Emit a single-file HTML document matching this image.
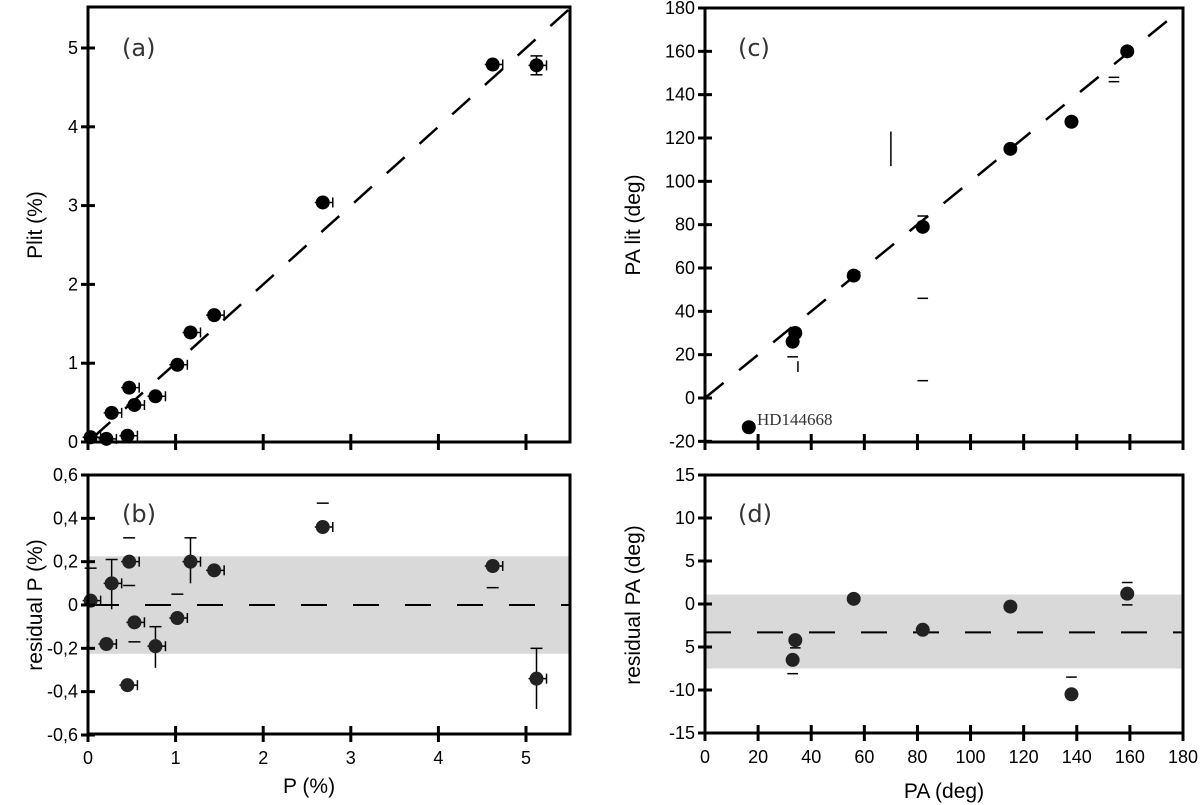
<!DOCTYPE html>
<html><head><meta charset="utf-8">
<style>
body{margin:0;background:#fff;}
svg{display:block;font-family:"Liberation Sans",sans-serif;}
</style></head>
<body>
<svg id="chart" width="1200" height="805" viewBox="0 0 1200 805" xmlns="http://www.w3.org/2000/svg"></svg>
<script>
// Panel (a)/(b) data
const pObs = [0.03,0.21,0.27,0.45,0.47,0.53,0.77,1.02,1.17,1.44,2.68,4.62,5.12];
const pLit = [0.06,0.04,0.37,0.08,0.69,0.47,0.58,0.98,1.39,1.61,3.04,4.79,4.78];
const pResid = [0.02,-0.18,0.10,-0.37,0.20,-0.08,-0.19,-0.06,0.20,0.16,0.36,0.18,-0.34];
const pTicksX = [0,1,2,3,4,5];
const pTicksY = [0,1,2,3,4,5];
const rTicks = [0.6,0.4,0.2,0,-0.2,-0.4,-0.6];
const rTickLabels = ["0,6","0,4","0,2","0","-0,2","-0,4","-0,6"];
// residual error bars (x, low, high)
const rErrX = [0.27,1.17,0.77,5.12];
const rErrLo = [-0.02,0.10,-0.29,-0.48];
const rErrHi = [0.21,0.31,-0.10,-0.20];
// stray caps in (b)
const rCapX = [0.03,0.47,0.47,1.02,0.53,2.68,4.62];
const rCapY = [0.17,0.31,0.09,0.05,-0.17,0.47,0.08];
// Panel (c)/(d) data
const paObs = [16.5,33,34,56,82,115,138,159];
const paLit = [-13.5,26,30,56.5,79,115,127.5,160];
const paResidX = [33,34,56,82,115,138,159];
const paResid = [-6.5,-4.2,0.6,-3,-0.3,-10.5,1.2];
const paTicksX = [0,20,40,60,80,100,120,140,160,180];
const paTicksY = [-20,0,20,40,60,80,100,120,140,160,180];
const prTicks = [15,10,5,0,-5,-10,-15];
const prTickLabels = ["15","10","5","0","5","-10","-15"];

const svg = document.getElementById('chart');
const NS = 'http://www.w3.org/2000/svg';
function mk(tag, attrs, parent){const e=document.createElementNS(NS,tag);for(const k in attrs)e.setAttribute(k,attrs[k]);(parent||svg).appendChild(e);return e;}

const ax = v => 88 + v*87.6;
const ay = v => 442 - v*78.8;
const by = v => 605 - v*(130/0.6);
const cx = v => 705 + v*(478/180);
const cy = v => 398 - v*(390/180);
const dy = v => 604 - v*(129/15);

function frame(x1,y1,x2,y2,name){
  const r=mk('rect',{x:x1,y:y1,width:x2-x1,height:y2-y1,fill:'none',stroke:'#000','stroke-width':3});
  
  
}
function yTick(x,y,label,name){
  const l=mk('line',{x1:x-7,y1:y,x2:x+7,y2:y,stroke:'#000','stroke-width':3});
  
  
  const t=mk('text',{x:x-10,y:y+6,'text-anchor':'end','font-size':18,fill:'#000'});
  t.textContent=label;
  
  
}
function xTick(x,y,label,name){
  const l=mk('line',{x1:x,y1:y-8,x2:x,y2:y+8,stroke:'#000','stroke-width':3});
  
  
  if(label!==null){
    const t=mk('text',{x:x,y:y+30,'text-anchor':'middle','font-size':18,fill:'#000'});
    t.textContent=label;
    
    
  }
}
function text(x,y,s,size,name,extra){
  const t=mk('text',Object.assign({x:x,y:y,'font-size':size,fill:'#000'},extra||{}));
  t.textContent=s;
  
  
  return t;
}
function dot(x,y,name,col){
  const c=mk('circle',{cx:x,cy:y,r:7,fill:col||'#000'});
  
  
}
function seg(x1,y1,x2,y2,name,w){
  const l=mk('line',{x1:x1,y1:y1,x2:x2,y2:y2,stroke:'#000','stroke-width':w||1.5});
  
  
}

mk('rect',{x:0,y:0,width:1200,height:805,fill:'#fff'});
const bandB=mk('rect',{x:88,y:by(0.225),width:482,height:by(-0.225)-by(0.225),fill:'#d9d9d9'});


const bandD=mk('rect',{x:705,y:dy(1.1),width:478,height:dy(-7.5)-dy(1.1),fill:'#d9d9d9'});



// ---------- Panel (a)
const la=mk('line',{x1:ax(0.05),y1:ay(0.05),x2:ax(5.5),y2:ay(5.5),stroke:'#000','stroke-width':2.5,'stroke-dasharray':'24 20'});


pObs.forEach((v,i)=>{
  seg(ax(v)-8,ay(pLit[i]),ax(v)+10,ay(pLit[i]),'p-xerr');
  seg(ax(v)+10,ay(pLit[i])-5,ax(v)+10,ay(pLit[i])+5,'p-xerr-cap');
  dot(ax(v),ay(pLit[i]),'point-a-'+i);
});
seg(ax(5.12),ay(4.9),ax(5.12),ay(4.66),'plit-yerr');
seg(ax(5.12)-6,ay(4.9),ax(5.12)+6,ay(4.9),'plit-yerr-cap');
seg(ax(5.12)-6,ay(4.66),ax(5.12)+6,ay(4.66),'plit-yerr-cap');
frame(88,7,570,442,'panel-a-frame');
pTicksY.forEach(v=>yTick(88,ay(v),String(v),'plit-y'));
pTicksX.forEach(v=>xTick(ax(v),442,null,'p-x-top'));
text(122,56,'(a)',24,'panel-a-label',{'font-family':'"DejaVu Sans",sans-serif','fill':'#333'});
text(42,225,'Plit (%)',21,'plit-axis-title',{'text-anchor':'middle',transform:'rotate(-90 42 225)'});

// ---------- Panel (b)
const lb=mk('line',{x1:93,y1:by(0),x2:570,y2:by(0),stroke:'#000','stroke-width':2,'stroke-dasharray':'26 26'});


rErrX.forEach((v,i)=>{
  seg(ax(v),by(rErrLo[i]),ax(v),by(rErrHi[i]),'resid-p-yerr');
  seg(ax(v)-6,by(rErrHi[i]),ax(v)+6,by(rErrHi[i]),'resid-p-yerr-cap');
});
rCapX.forEach((v,i)=>seg(ax(v)-6,by(rCapY[i]),ax(v)+6,by(rCapY[i]),'resid-p-cap'));
pObs.forEach((v,i)=>{
  seg(ax(v)-8,by(pResid[i]),ax(v)+10,by(pResid[i]),'resid-p-xerr');
  seg(ax(v)+10,by(pResid[i])-5,ax(v)+10,by(pResid[i])+5,'resid-p-xerr-cap');
  dot(ax(v),by(pResid[i]),'point-b-'+i,'#222');
});
frame(88,475,570,734,'panel-b-frame');
rTicks.forEach((v,i)=>yTick(88,by(v),rTickLabels[i],'resid-p-y'));
pTicksX.forEach(v=>xTick(ax(v),734,String(v),'p-x'));
text(122,522,'(b)',24,'panel-b-label',{'font-family':'"DejaVu Sans",sans-serif','fill':'#333'});
text(42,605,'residual P (%)',21,'residual-p-axis-title',{'text-anchor':'middle',transform:'rotate(-90 42 605)'});
text(309,793,'P (%)',21,'p-axis-title',{'text-anchor':'middle'});

// ---------- Panel (c)
const lc=mk('line',{x1:cx(0),y1:cy(0),x2:cx(180),y2:cy(180),stroke:'#000','stroke-width':2.5,'stroke-dasharray':'24 20'});


paObs.forEach((v,i)=>dot(cx(v),cy(paLit[i]),'point-c-'+i));
seg(cx(70),cy(107),cx(70),cy(123),'stray-errbar');
seg(cx(31),cy(19),cx(35),cy(19),'stray-cap');
seg(cx(35),cy(12),cx(35),cy(17),'stray-errbar');
seg(cx(80),cy(46),cx(84),cy(46),'stray-cap');
seg(cx(80),cy(8),cx(84),cy(8),'stray-cap');
seg(cx(152),cy(148),cx(156),cy(148),'stray-cap');
seg(cx(152),cy(146),cx(156),cy(146),'stray-cap');
seg(cx(80),cy(84),cx(84),cy(84),'stray-cap');
frame(705,8,1183,442,'panel-c-frame');
paTicksY.forEach(v=>yTick(705,cy(v),String(v),'palit-y'));
paTicksX.forEach(v=>xTick(cx(v),442,null,'pa-x-top'));
text(738,56,'(c)',24,'panel-c-label',{'font-family':'"DejaVu Sans",sans-serif','fill':'#333'});
text(640,225,'PA lit (deg)',21,'palit-axis-title',{'text-anchor':'middle',transform:'rotate(-90 640 225)'});
text(757,425,'HD144668',17,'hd144668-annotation',{'font-family':'"Liberation Serif",serif','fill':'#333'});

// ---------- Panel (d)
const ld=mk('line',{x1:705,y1:dy(-3.3),x2:1183,y2:dy(-3.3),stroke:'#000','stroke-width':2,'stroke-dasharray':'26 26'});


paResidX.forEach((v,i)=>dot(cx(v),dy(paResid[i]),'point-d-'+i,'#222'));
seg(cx(32),dy(-5.1),cx(36),dy(-5.1),'pa-err-cap');
seg(cx(31),dy(-8.1),cx(35),dy(-8.1),'pa-err-cap');
seg(cx(136),dy(-8.5),cx(140),dy(-8.5),'pa-err-cap');
seg(cx(157),dy(2.5),cx(161),dy(2.5),'pa-err-cap');
seg(cx(157),dy(-0.1),cx(161),dy(-0.1),'pa-err-cap');
frame(705,475,1183,733,'panel-d-frame');
prTicks.forEach((v,i)=>yTick(705,dy(v),prTickLabels[i],'resid-pa-y'));
paTicksX.forEach(v=>xTick(cx(v),733,String(v),'pa-x'));
text(738,522,'(d)',24,'panel-d-label',{'font-family':'"DejaVu Sans",sans-serif','fill':'#333'});
text(640,605,'residual PA (deg)',21,'residual-pa-axis-title',{'text-anchor':'middle',transform:'rotate(-90 640 605)'});
text(944,798,'PA (deg)',21,'pa-axis-title',{'text-anchor':'middle'});
</script>
</body></html>
